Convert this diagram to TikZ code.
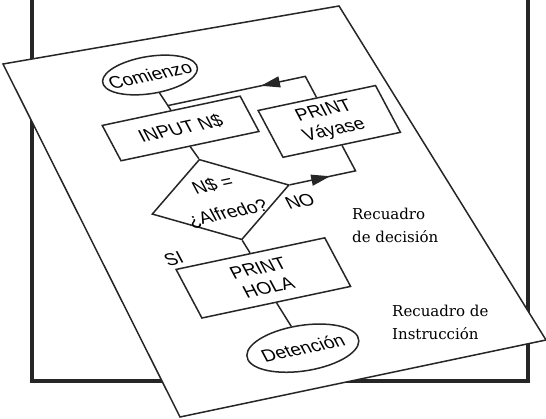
\documentclass[tikz,border=0pt]{standalone}
\usepackage{fontspec}
\newfontfamily\flowfont{Liberation Sans}
\newfontfamily\notefont{DejaVu Serif}
\usetikzlibrary{shapes.geometric, arrows.meta, decorations.markings}
\tikzset{
  line/.style={line width=1.5pt, draw=black!85},
  sheet/.style={line width=1.5pt, draw=black!85, fill=white},
  box/.style={draw=black!85, line width=1.5pt, rectangle, inner sep=0pt, align=center,
    font=\flowfont\fontsize{18.5}{22}\selectfont},
  term/.style={box, ellipse},
  query/.style={box, diamond, aspect=1.54, inner sep=-3pt},
  lbl/.style={inner sep=0pt, font=\flowfont\fontsize{18.5}{22}\selectfont},
  note/.style={anchor=west, align=left, inner sep=0pt, font=\notefont\fontsize{15}{23}\selectfont},
  midarrow/.style={postaction={decorate}, decoration={markings,
    mark=at position #1 with {\arrow{Triangle[length=19pt,width=11pt]}}}}
}
\begin{document}
\begin{tikzpicture}[x=1pt, y=1pt]
  \useasboundingbox (0,0) rectangle (546,418);
  % frame behind the tilted sheet
  \draw[line width=3.4pt, black!85] (32,37) rectangle (528,440);
  \draw[sheet] (3,354) -- (339,412) -- (546,78) -- (180,1) -- cycle;
  % flowchart drawn on the sheet
  \begin{scope}[shift={(150,343)}, rotate=12, xslant=-0.2867, yscale=0.9613, transform shape]
    \node[term, inner xsep=-8pt, inner ysep=7pt] (cmz) at (0,0) {Comienzo};
    \node[box, minimum width=141pt, minimum height=40pt] (inp) at (2,-61) {INPUT N\$};
    \node[box, minimum width=120pt, minimum height=53pt] (vay) at (142,-86) {PRINT\\Váyase};
    \node[query] (dec) at (4,-142) {N\$ =\\[10pt]¿Alfredo?};
    \node[box, minimum width=152pt, minimum height=55pt] (hola) at (5,-231) {PRINT\\HOLA};
    \node[term, inner xsep=-2pt, inner ysep=10pt] (det) at (7,-311) {Detención};
    \node[lbl] (no) at (76,-161) {NO};
    \node[lbl] (si) at (-68,-192) {SI};
    \coordinate (jn) at (1.3,-35);
    \coordinate (ctop) at (142,-35);
    \coordinate (cno) at (142,-142);
    \draw[line] (cmz.south) -- (inp.north);
    \draw[line] (inp.south) -- (dec.north);
    \draw[line] (dec.south) -- (hola.north);
    \draw[line] (hola.south) -- (det.north);
    \draw[line, midarrow=0.43] (dec.east) -- (cno) -- (vay.south);
    \draw[line, midarrow=0.42] (vay.north) -- (ctop) -- (jn);
  \end{scope}
  \node[note] (ndec) at (352,193) {Recuadro\\de decisión};
  \node[note] (ninst) at (392,96) {Recuadro de\\Instrucción};
\end{tikzpicture}
\end{document}
